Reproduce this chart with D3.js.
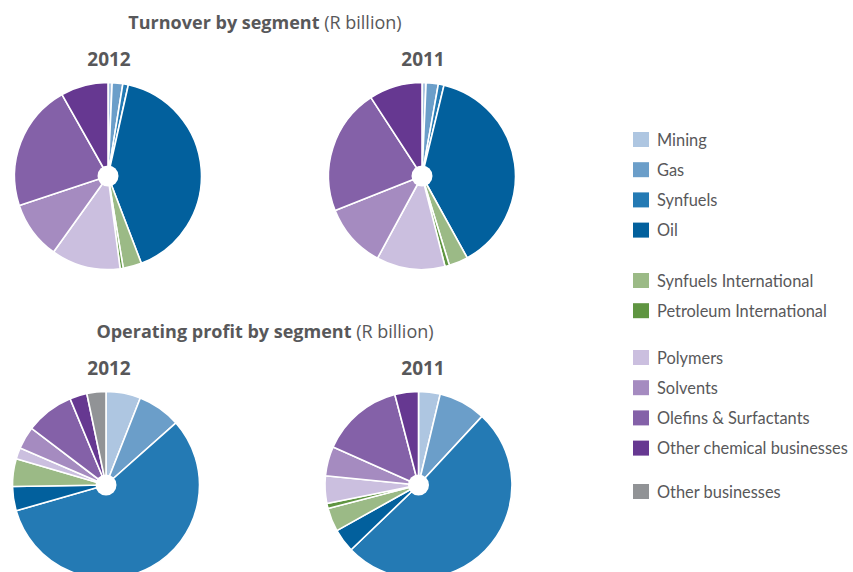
<!DOCTYPE html>
<html>
<head>
<meta charset="utf-8">
<script src="https://cdn.jsdelivr.net/npm/d3@7"></script>
<style>
  html, body { margin: 0; padding: 0; background: #fff; }
  svg { display: block; font-family: "Open Sans", "Noto Sans", sans-serif; }
</style>
</head>
<body>
<svg id="chart" width="853" height="572"></svg>
<script>
// Business segments, in drawing order (clockwise from 12 o'clock)
const segments = [
  "Mining", "Gas", "Synfuels", "Oil",
  "Synfuels International", "Petroleum International",
  "Polymers", "Solvents", "Olefins & Surfactants", "Other chemical businesses",
  "Other businesses"
];

// Segment palette
const palette = [
  "#aec6e1", "#6b9ec9", "#247ab4", "#02609d",
  "#9bba86", "#5f9541",
  "#cbbfdf", "#a58bc0", "#8461a8", "#663891",
  "#919396"
];

// Turnover by segment (R billion)
const turnover2012 = [1.2, 3.1, 1.6, 68.7, 5.4, 0.9, 20.2, 16.9, 37.0, 13.8, 0];
const turnover2011 = [1.0, 3.0, 1.4, 54.4, 4.7, 1.1, 16.9, 15.8, 31.1, 13.1, 0];

// Operating profit by segment (R billion)
const profit2012 = [2.0, 2.5, 19.1, 1.4, 1.6, 0, 0.65, 1.3, 2.8, 1.0, 1.1];
const profit2011 = [1.1, 2.4, 15.0, 1.2, 1.2, 0.25, 1.4, 1.5, 4.2, 1.2, 0];

// Legend groups (indices into segments)
const legendGroups = [[0, 1, 2, 3], [4, 5], [6, 7, 8, 9], [10]];

const svg = d3.select("#chart");
const textColor = "#58585a";

const color = d3.scaleOrdinal().domain(segments).range(palette);

const pie = d3.pie().sort(null).value(d => d.value);
const R = 93.5;
const arc = d3.arc().innerRadius(0).outerRadius(R);

function drawPie(values, cx, cy) {
  const g = svg.append("g").attr("transform", `translate(${cx},${cy})`);
  const data = segments.map((s, i) => ({ name: s, value: values[i] }));
  g.selectAll("path")
    .data(pie(data).filter(d => d.data.value > 0))
    .join("path")
    .attr("d", arc)
    .attr("fill", d => color(d.data.name))
    .attr("stroke", "#fff")
    .attr("stroke-width", 1.6)
    .attr("stroke-linejoin", "round");
  g.append("circle").attr("r", 10.5).attr("fill", "#fff");
}

function title(x, y, bold, normal) {
  const t = svg.append("text")
    .attr("x", x).attr("y", y)
    .attr("text-anchor", "middle")
    .attr("fill", textColor)
    .style("font-size", "18px");
  t.append("tspan").attr("font-weight", 700).text(bold);
  t.append("tspan").attr("font-weight", 400).text(" " + normal);
}

function year(x, y, label) {
  svg.append("text")
    .attr("x", x).attr("y", y)
    .attr("text-anchor", "middle")
    .attr("fill", textColor)
    .attr("font-weight", 700)
    .style("font-size", "19px")
    .text(label);
}

// Turnover
title(265, 29, "Turnover by segment", "(R billion)");
year(109, 66, "2012");
year(423, 66, "2011");
drawPie(turnover2012, 108, 176);
drawPie(turnover2011, 422, 176);

// Operating profit
title(265, 338, "Operating profit by segment", "(R billion)");
year(109, 375, "2012");
year(423, 375, "2011");
drawPie(profit2012, 106, 485);
drawPie(profit2011, 418.5, 485);

// Legend
const legendRows = [];
const groupStarts = [132, 273, 350, 484];
legendGroups.forEach((grp, gi) => {
  grp.forEach((idx, k) => legendRows.push({ idx, y: groupStarts[gi] + k * 30.2 }));
});

const lg = svg.append("g");
const item = lg.selectAll("g").data(legendRows).join("g")
  .attr("transform", d => `translate(633,${d.y})`);
item.append("rect")
  .attr("width", 16).attr("height", 15)
  .attr("fill", d => color(segments[d.idx]));
item.append("text")
  .attr("x", 24).attr("y", 13.5)
  .attr("fill", textColor)
  .style("font-family", "Lato, 'Open Sans', sans-serif")
  .style("font-size", "16.4px")
  .text(d => segments[d.idx]);
</script>
</body>
</html>
